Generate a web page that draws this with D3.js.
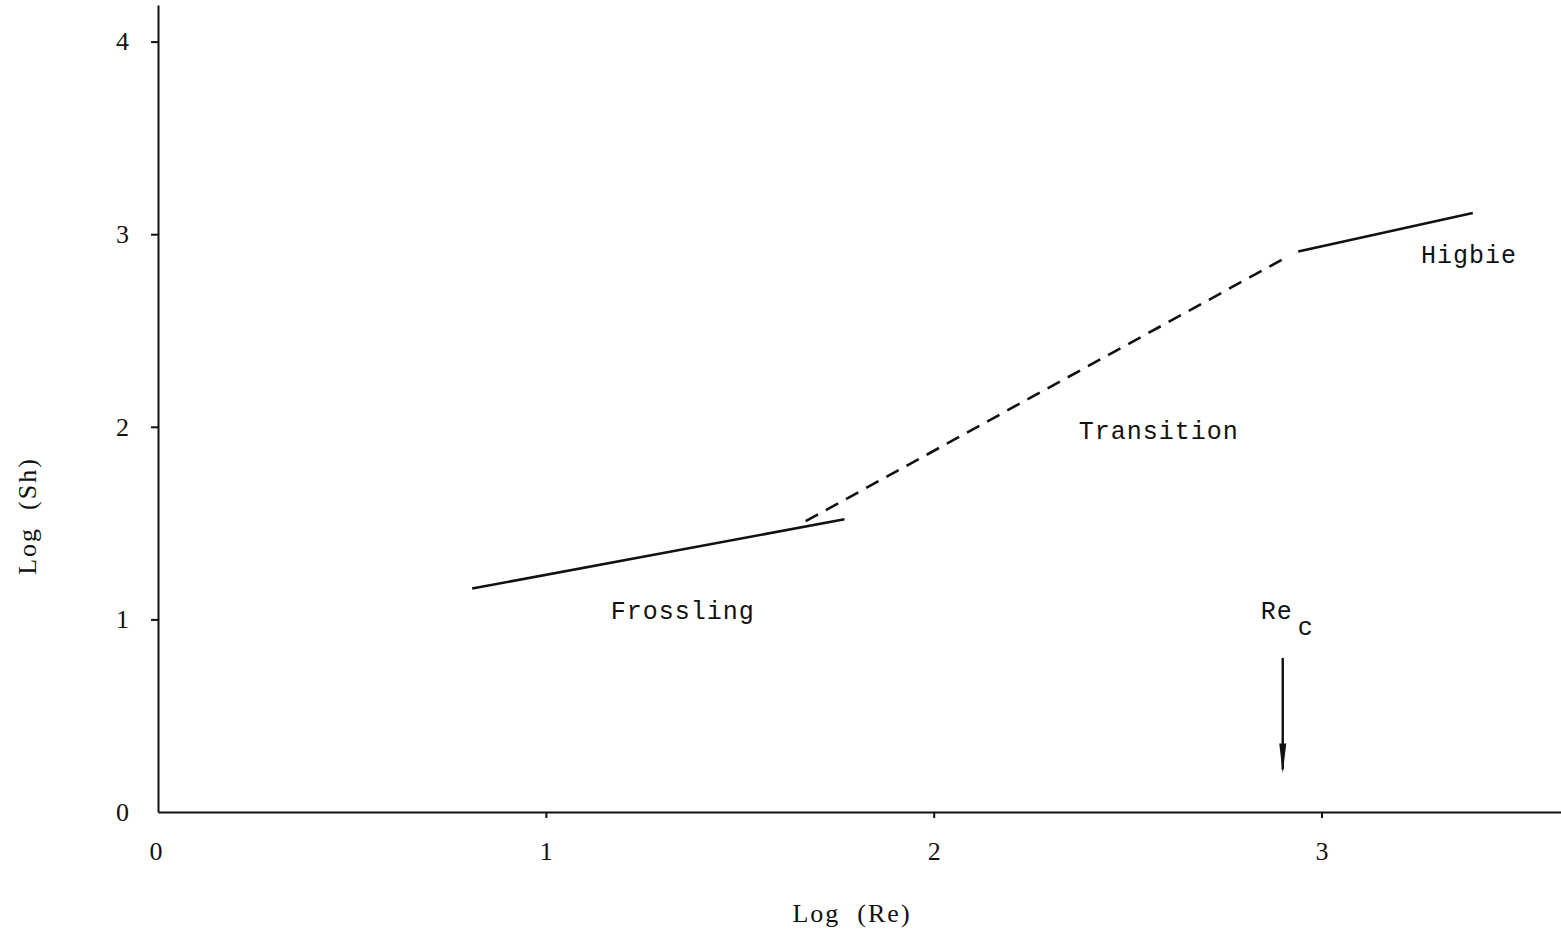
<!DOCTYPE html>
<html>
<head>
<meta charset="utf-8">
<script src="https://cdn.jsdelivr.net/npm/d3@7"></script>
<style>
  body { margin: 0; background: #fff; }
  .note { font-family: "Liberation Mono", monospace; font-size: 25px; letter-spacing: 1px; fill: #111; }
  .axis-label { font-family: "Liberation Serif", serif; font-size: 26px; letter-spacing: 2px; fill: #111; }
</style>
</head>
<body>
<div id="chart"></div>
<script>
// Tick values
const xTicks = [0, 1, 2, 3];
const yTicks = [0, 1, 2, 3, 4];

// Correlation segments (log Re, log Sh)
const frossling = [[0.81, 1.16], [1.77, 1.52]];
const transition = [[1.67, 1.51], [2.90, 2.87]];
const higbie = [[2.94, 2.91], [3.39, 3.11]];

// Critical Reynolds number marker
const reC = 2.90;
const arrowFromTo = [0.80, 0.20];

// Region labels [x, y, text]
const labels = [
    [1.353, 1.0, "Frossling"],
    [2.58, 1.935, "Transition"],
    [3.38, 2.85, "Higbie"]
];

const width = 1561, height = 935;
const svg = d3.select("#chart")
    .append("svg")
        .attr("width", width)
        .attr("height", height);

const x = d3.scaleLinear().domain([0, 3.62]).range([158, 1562]);
const y = d3.scaleLinear().domain([0, 4.19]).range([812, 5]);

// X axis
const xAxis = svg.append("g")
    .attr("transform", "translate(0," + y(0) + ")")
    .call(d3.axisBottom(x).tickValues(xTicks).tickFormat(d3.format("d"))
        .tickSize(6).tickPadding(24).tickSizeOuter(0));
xAxis.select(".domain").attr("stroke", "#111").attr("stroke-width", 2);
xAxis.selectAll(".tick line").attr("stroke", "#111").attr("stroke-width", 2);
xAxis.selectAll(".tick").filter(d => d === 0).select("line").remove();

// Y axis
const yAxis = svg.append("g")
    .attr("transform", "translate(" + x(0) + ",0)")
    .call(d3.axisLeft(y).tickValues(yTicks).tickFormat(d3.format("d"))
        .tickSize(7).tickPadding(22).tickSizeOuter(0));
yAxis.select(".domain").attr("stroke", "#111").attr("stroke-width", 2);
yAxis.selectAll(".tick line").attr("stroke", "#111").attr("stroke-width", 2);
yAxis.selectAll(".tick").filter(d => d === 0).select("line").remove();

svg.selectAll(".tick text")
    .attr("font-family", "Liberation Serif, serif")
    .attr("font-size", 26)
    .attr("fill", "#111");
xAxis.selectAll(".tick").filter(d => d === 0).select("text").attr("dx", "-0.1em");

// Lines
const line = d3.line().x(d => x(d[0])).y(d => y(d[1]));

svg.append("path").datum(frossling)
    .attr("d", line).attr("fill", "none")
    .attr("stroke", "#111").attr("stroke-width", 2.6);

svg.append("path").datum(transition)
    .attr("d", line).attr("fill", "none")
    .attr("stroke", "#111").attr("stroke-width", 2.6)
    .attr("stroke-dasharray", "14,9");

svg.append("path").datum(higbie)
    .attr("d", line).attr("fill", "none")
    .attr("stroke", "#111").attr("stroke-width", 2.6);

// Region labels
svg.selectAll(".note")
    .data(labels)
    .enter()
    .append("text")
    .attr("class", "note")
    .attr("x", d => x(d[0]))
    .attr("y", d => y(d[1]))
    .attr("text-anchor", "middle")
    .text(d => d[2]);

// Re_c label and arrow
const rec = svg.append("text")
    .attr("class", "note")
    .attr("x", x(reC) - 22)
    .attr("y", y(1.0));
rec.append("tspan").text("Re");
rec.append("tspan").attr("dx", 5).attr("dy", 16).text("c");

svg.append("line")
    .attr("x1", x(reC)).attr("x2", x(reC))
    .attr("y1", y(arrowFromTo[0])).attr("y2", y(arrowFromTo[1]) - 4)
    .attr("stroke", "#111").attr("stroke-width", 2.4);

svg.append("path")
    .attr("d", d3.line()([
        [x(reC) - 3.5, y(arrowFromTo[1]) - 30],
        [x(reC) + 3.5, y(arrowFromTo[1]) - 30],
        [x(reC), y(arrowFromTo[1])]
    ]))
    .attr("fill", "#111");

// Axis titles
svg.append("text")
    .attr("class", "axis-label")
    .attr("x", 852)
    .attr("y", 922)
    .attr("text-anchor", "middle")
    .attr("xml:space", "preserve")
    .text("Log  (Re)");

svg.append("text")
    .attr("class", "axis-label")
    .attr("transform", "translate(36," + 516 + ") rotate(-90)")
    .attr("text-anchor", "middle")
    .attr("xml:space", "preserve")
    .text("Log  (Sh)");
</script>
</body>
</html>
